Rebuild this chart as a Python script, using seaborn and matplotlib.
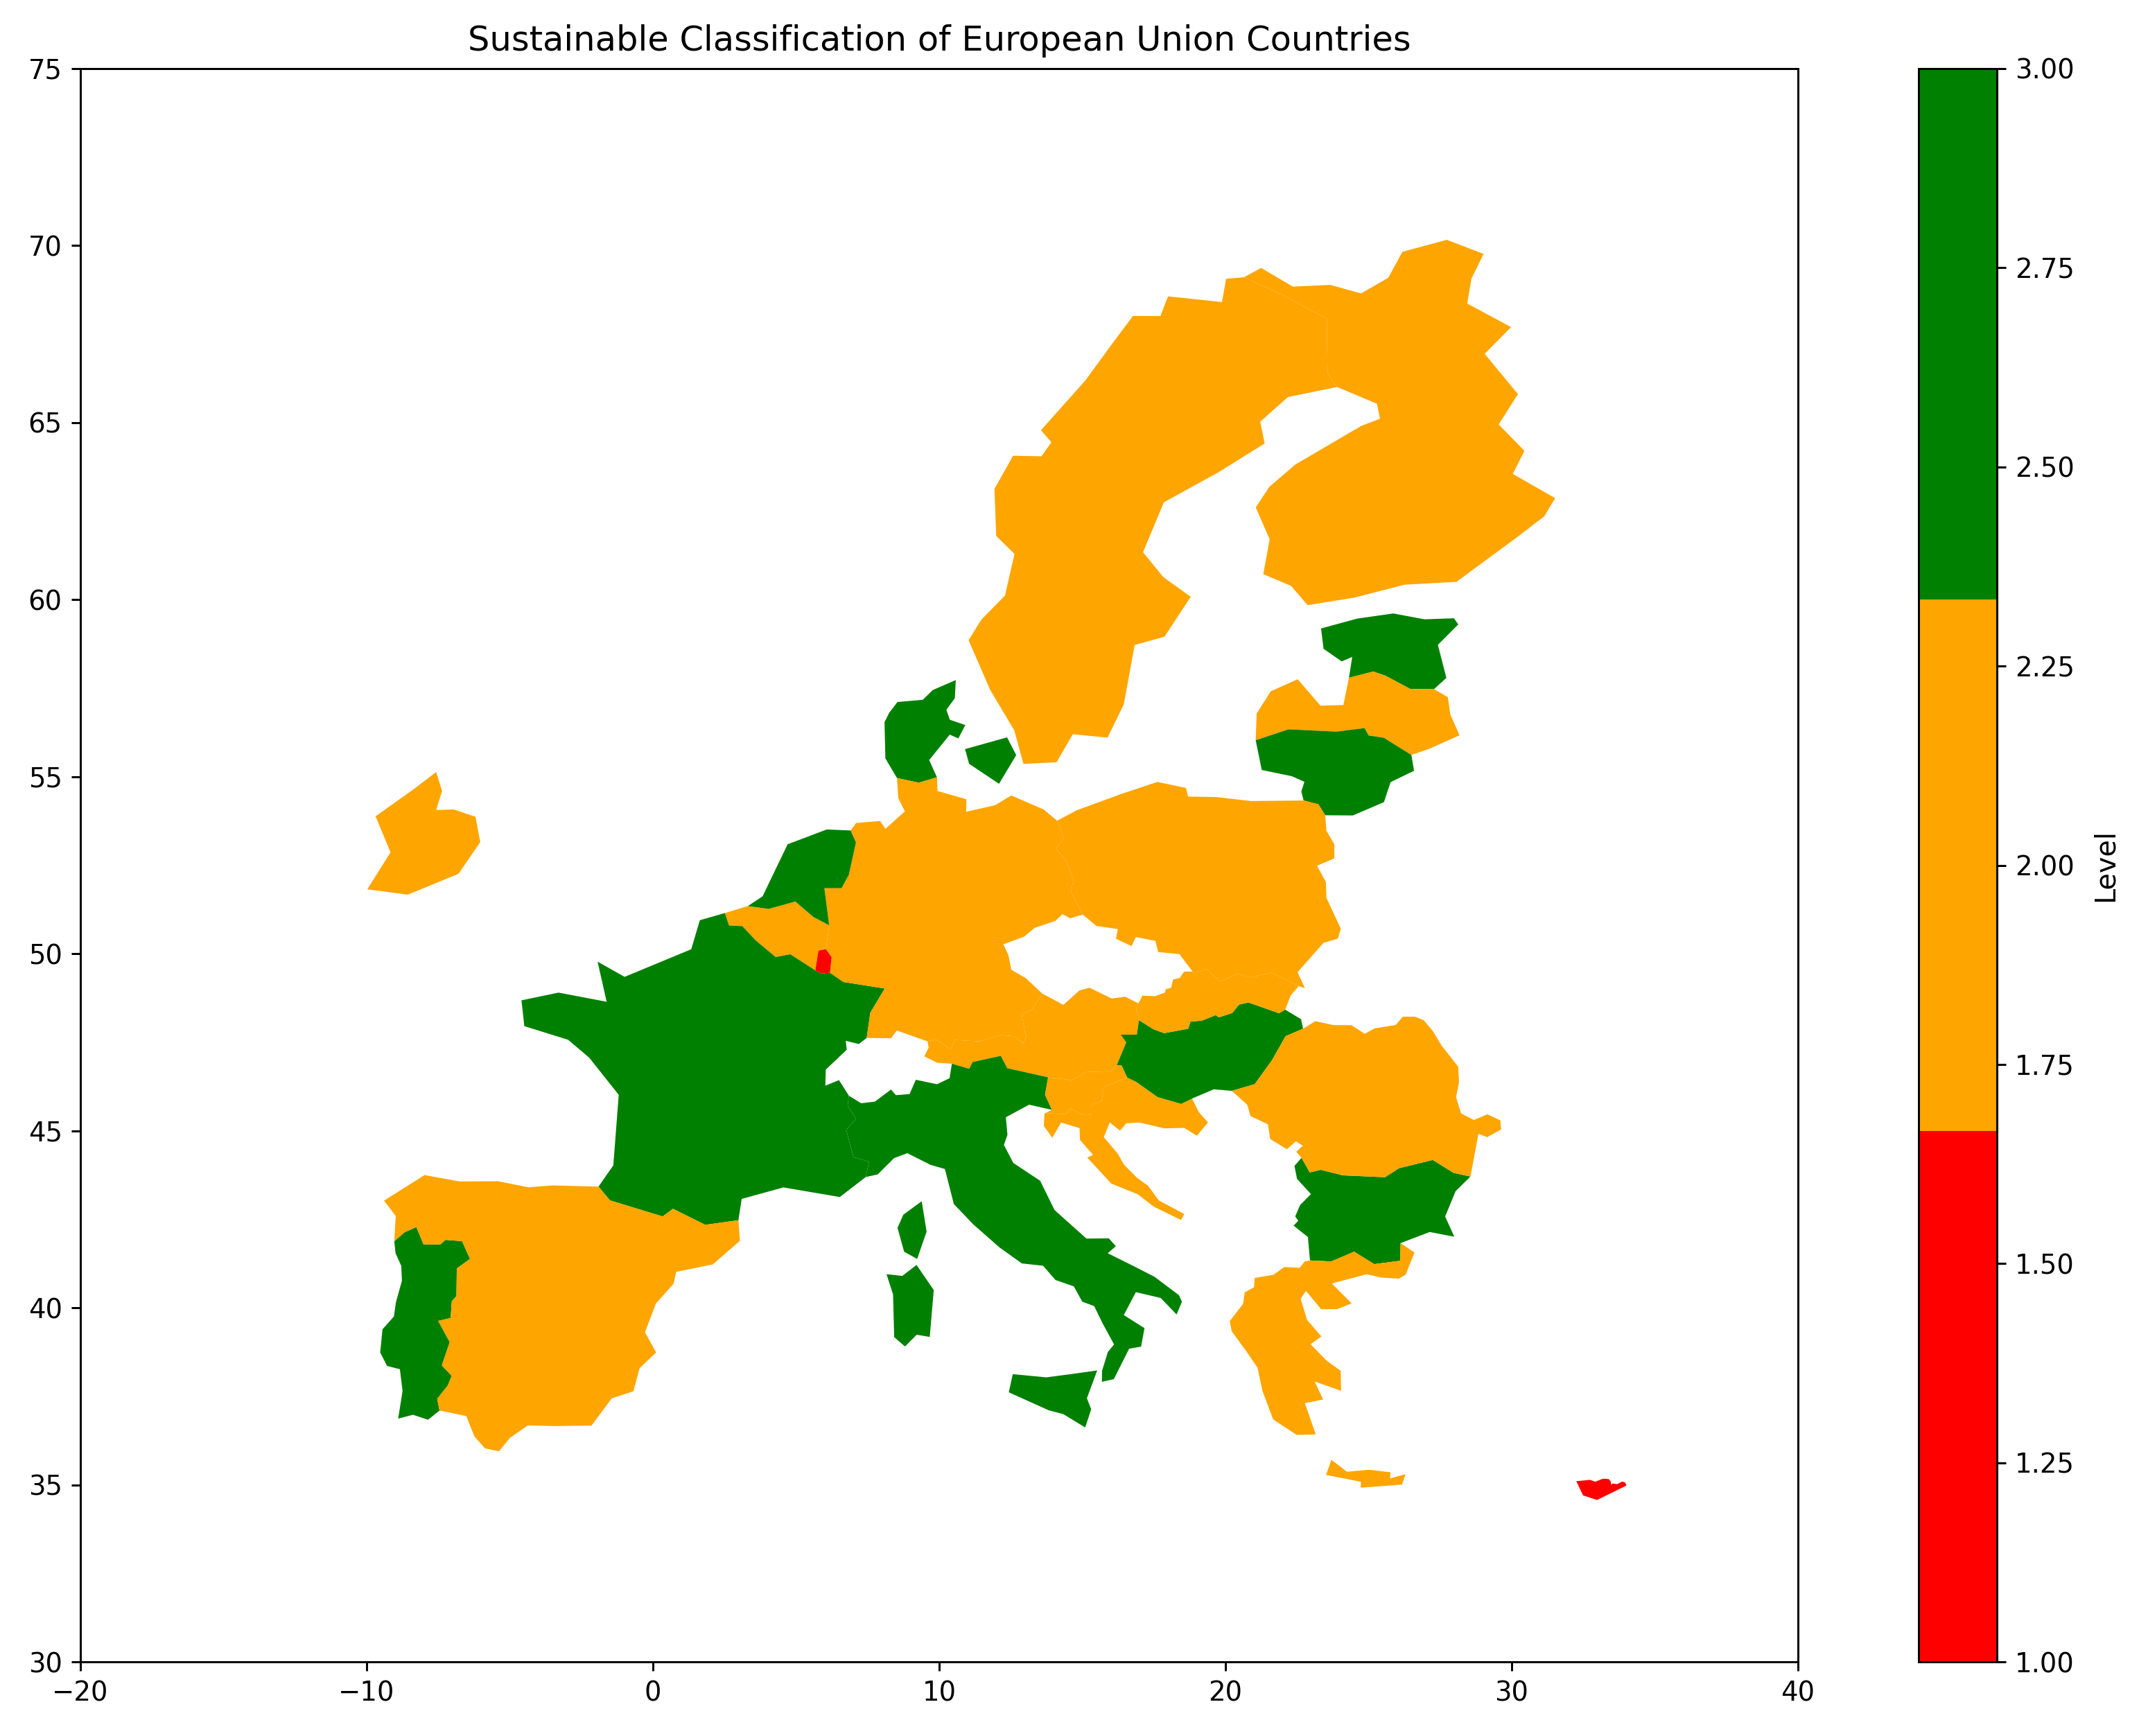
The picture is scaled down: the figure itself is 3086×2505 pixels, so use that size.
import numpy as np
import matplotlib
matplotlib.use("Agg")
import matplotlib.pyplot as plt
from matplotlib.collections import PolyCollection
from matplotlib.colors import ListedColormap, Normalize
from matplotlib.cm import ScalarMappable
import seaborn as sns

sns.set_theme(style="ticks", rc={"font.family": "DejaVu Sans"})
sns.reset_orig()

austria = [[16.980,48.123],[16.904,47.715],[16.341,47.713],[16.534,47.496],[16.202,46.852],[16.012,46.684],[15.137,46.659],[14.632,46.432],[13.806,46.509],[12.376,46.768],[12.153,47.115],[11.165,46.942],[11.049,46.751],[10.443,46.894],[9.932,46.921],[9.480,47.102],[9.632,47.348],[9.595,47.525],[9.896,47.580],[10.402,47.302],[10.544,47.566],[11.426,47.524],[12.141,47.704],[12.621,47.672],[12.933,47.467],[13.026,47.638],[12.884,48.289],[13.243,48.416],[13.596,48.877],[14.339,48.555],[14.901,48.964],[15.253,49.039],[16.030,48.734],[16.499,48.786],[16.960,48.597],[16.880,48.470]]
belgium = [[3.315,51.346],[4.047,51.267],[4.974,51.475],[5.607,51.037],[6.157,50.804],[6.043,50.128],[5.782,50.090],[5.674,49.529],[4.799,49.985],[4.286,49.907],[3.588,50.379],[3.123,50.780],[2.658,50.797],[2.514,51.149]]
bulgaria = [[22.657,44.235],[22.945,43.824],[23.332,43.897],[24.101,43.741],[25.569,43.688],[26.065,43.943],[27.242,44.176],[27.970,43.812],[28.558,43.707],[28.039,43.293],[27.674,42.578],[27.996,42.007],[27.136,42.141],[26.117,41.827],[26.106,41.329],[25.197,41.234],[24.493,41.584],[23.692,41.309],[22.952,41.338],[22.881,41.999],[22.381,42.320],[22.545,42.461],[22.437,42.580],[22.605,42.899],[22.986,43.211],[22.500,43.643],[22.410,44.008]]
croatia = [[18.830,45.909],[19.073,45.522],[19.390,45.237],[19.005,44.860],[18.553,45.082],[17.862,45.068],[17.002,45.234],[16.535,45.212],[16.318,45.004],[15.959,45.234],[15.750,44.819],[16.240,44.351],[16.456,44.041],[16.916,43.668],[17.297,43.446],[17.675,43.029],[18.560,42.650],[18.450,42.480],[17.510,42.850],[16.930,43.210],[16.015,43.507],[15.174,44.243],[15.376,44.318],[14.920,44.739],[14.902,45.076],[14.259,45.234],[13.952,44.802],[13.657,45.137],[13.679,45.484],[13.715,45.500],[14.412,45.466],[14.595,45.635],[14.935,45.472],[15.328,45.452],[15.324,45.732],[15.672,45.834],[15.769,46.238],[16.565,46.504],[16.883,46.381],[17.630,45.952],[18.456,45.759]]
cyprus = [[32.731,35.140],[32.919,35.088],[33.191,35.173],[33.384,35.163],[33.456,35.101],[33.476,35.001],[33.526,35.039],[33.676,35.018],[33.866,35.094],[33.973,35.059],[34.005,34.978],[32.980,34.572],[32.491,34.702],[32.257,35.103]]
denmark_jutland = [[9.922,54.983],[9.282,54.831],[8.526,54.963],[8.120,55.518],[8.090,56.540],[8.257,56.810],[8.543,57.110],[9.424,57.172],[9.776,57.448],[10.580,57.730],[10.546,57.216],[10.250,56.890],[10.370,56.610],[10.912,56.459],[10.668,56.081],[10.370,56.190],[9.650,55.470]]
denmark_zealand = [[12.690,55.610],[12.090,54.800],[11.044,55.365],[10.904,55.780],[12.371,56.111]]
estonia = [[24.313,57.793],[24.429,58.383],[24.061,58.257],[23.427,58.613],[23.340,59.187],[24.604,59.466],[25.864,59.611],[26.949,59.446],[27.981,59.475],[28.132,59.301],[27.420,58.725],[27.717,57.792],[27.288,57.475],[26.464,57.476],[25.603,57.848],[25.165,57.970]]
finland = [[28.592,69.065],[28.446,68.365],[29.977,67.698],[29.055,66.944],[30.218,65.806],[29.544,64.949],[30.445,64.204],[30.036,63.553],[31.516,62.868],[31.140,62.358],[30.211,61.780],[28.070,60.504],[26.255,60.424],[24.497,60.057],[22.870,59.846],[22.291,60.392],[21.322,60.720],[21.545,61.705],[21.059,62.607],[21.536,63.190],[22.443,63.818],[24.731,64.902],[25.398,65.111],[25.294,65.534],[23.903,66.007],[23.566,66.396],[23.539,67.936],[21.979,68.617],[20.646,69.106],[21.245,69.370],[22.356,68.842],[23.662,68.891],[24.736,68.650],[25.689,69.092],[26.180,69.825],[27.732,70.164],[29.016,69.766]]
france_main = [[3.588,50.379],[4.286,49.907],[4.799,49.985],[5.674,49.529],[5.898,49.443],[6.186,49.464],[6.658,49.202],[8.099,49.018],[7.594,48.333],[7.467,47.621],[7.192,47.450],[6.737,47.542],[6.769,47.288],[6.037,46.726],[6.023,46.273],[6.500,46.430],[6.844,45.991],[6.802,45.709],[7.097,45.333],[6.750,45.029],[7.008,44.255],[7.550,44.128],[7.435,43.694],[6.529,43.129],[4.557,43.400],[3.100,43.075],[2.986,42.473],[1.827,42.343],[0.702,42.796],[0.338,42.580],[-1.503,43.034],[-1.901,43.423],[-1.384,44.023],[-1.194,46.015],[-2.226,47.064],[-2.963,47.570],[-4.492,47.955],[-4.592,48.684],[-3.296,48.902],[-1.617,48.644],[-1.933,49.776],[-0.989,49.347],[1.339,50.127],[1.639,50.947],[2.514,51.149],[2.658,50.797],[3.123,50.780]]
france_corsica = [[9.560,42.152],[9.230,41.380],[8.776,41.584],[8.544,42.257],[8.746,42.628],[9.390,43.010]]
germany = [[14.120,53.757],[14.353,53.248],[14.075,52.981],[14.438,52.625],[14.685,52.090],[14.607,51.745],[15.017,51.107],[14.571,51.002],[14.307,51.117],[14.056,50.927],[13.338,50.733],[12.967,50.484],[12.240,50.266],[12.415,49.969],[12.521,49.547],[13.031,49.307],[13.596,48.877],[13.243,48.416],[12.884,48.289],[13.026,47.638],[12.933,47.468],[12.621,47.672],[12.141,47.703],[11.426,47.524],[10.545,47.566],[10.402,47.302],[9.896,47.580],[9.594,47.525],[8.523,47.831],[8.317,47.614],[7.467,47.621],[7.594,48.333],[8.099,49.018],[6.658,49.202],[6.186,49.464],[6.243,49.902],[6.043,50.128],[6.157,50.804],[5.989,51.852],[6.589,51.852],[6.843,52.228],[7.092,53.144],[6.905,53.482],[7.100,53.694],[7.936,53.748],[8.122,53.528],[8.801,54.021],[8.572,54.396],[8.526,54.963],[9.282,54.831],[9.922,54.983],[9.940,54.597],[10.950,54.364],[10.939,54.009],[11.956,54.196],[12.518,54.470],[13.646,54.076]]
greece_crete = [[26.290,35.300],[26.165,35.005],[24.725,34.920],[24.735,35.085],[23.515,35.280],[23.700,35.705],[24.247,35.368],[25.025,35.425],[25.769,35.354],[25.745,35.180]]
greece_main = [[22.952,41.338],[23.692,41.309],[24.493,41.584],[25.197,41.234],[26.106,41.329],[26.117,41.827],[26.604,41.562],[26.295,40.936],[26.057,40.824],[25.448,40.853],[24.926,40.947],[23.715,40.687],[24.408,40.125],[23.900,39.962],[23.343,39.961],[22.814,40.476],[22.626,40.257],[22.850,39.659],[23.350,39.190],[22.973,38.971],[23.530,38.510],[24.025,38.220],[24.040,37.655],[23.115,37.920],[23.410,37.410],[22.775,37.305],[23.154,36.423],[22.490,36.410],[21.670,36.845],[21.295,37.645],[21.120,38.310],[20.730,38.770],[20.218,39.340],[20.150,39.625],[20.615,40.110],[20.675,40.435],[21.000,40.580],[21.020,40.843],[21.674,40.931],[22.055,41.150],[22.597,41.130],[22.762,41.305]]
hungary = [[22.086,48.422],[22.641,48.150],[22.711,47.882],[22.100,47.672],[21.627,46.994],[21.022,46.316],[20.220,46.127],[19.596,46.172],[18.830,45.909],[18.456,45.759],[17.630,45.952],[16.883,46.381],[16.565,46.504],[16.371,46.841],[16.202,46.852],[16.534,47.496],[16.341,47.713],[16.904,47.715],[16.980,48.123],[17.488,47.867],[17.857,47.758],[18.697,47.881],[18.777,48.082],[19.174,48.111],[19.661,48.267],[19.769,48.203],[20.239,48.328],[20.474,48.563],[20.801,48.624],[21.872,48.320]]
ireland = [[-9.977,51.820],[-9.166,52.865],[-9.689,53.881],[-8.328,54.665],[-7.572,55.132],[-7.366,54.596],[-7.572,54.060],[-6.954,54.074],[-6.198,53.868],[-6.033,53.153],[-6.789,52.260],[-8.562,51.669]]
italy_sicily = [[15.520,38.231],[15.160,37.444],[15.310,37.134],[15.100,36.620],[14.335,36.997],[13.827,37.105],[12.431,37.613],[12.571,38.126],[13.741,38.035],[14.761,38.144]]
italy_sardinia = [[9.210,41.210],[9.810,40.500],[9.670,39.177],[9.215,39.240],[8.807,38.907],[8.428,39.172],[8.388,40.378],[8.160,40.950],[8.710,40.900]]
italy_main = [[12.376,46.768],[13.806,46.509],[13.698,46.017],[13.938,45.591],[13.142,45.737],[12.329,45.382],[12.384,44.885],[12.261,44.600],[12.589,44.091],[13.527,43.588],[14.030,42.761],[15.143,41.955],[15.926,41.961],[16.170,41.740],[15.889,41.541],[16.785,41.180],[17.519,40.877],[18.377,40.356],[18.480,40.169],[18.293,39.811],[17.738,40.278],[16.870,40.442],[16.449,39.795],[17.171,39.425],[17.053,38.903],[16.635,38.844],[16.101,37.986],[15.684,37.909],[15.688,38.215],[15.892,38.751],[16.109,38.965],[15.719,39.544],[15.414,40.048],[14.998,40.173],[14.703,40.605],[14.061,40.786],[13.628,41.188],[12.888,41.253],[12.107,41.705],[11.192,42.355],[10.512,42.931],[10.200,43.920],[9.702,44.036],[8.889,44.366],[8.429,44.231],[7.851,43.767],[7.435,43.694],[7.550,44.128],[7.008,44.255],[6.750,45.029],[7.097,45.333],[6.802,45.709],[6.844,45.991],[7.274,45.777],[7.756,45.824],[8.317,46.164],[8.490,46.005],[8.966,46.037],[9.183,46.440],[9.923,46.315],[10.363,46.484],[10.443,46.894],[11.049,46.751],[11.165,46.942],[12.153,47.115]]
latvia = [[21.056,56.031],[21.090,56.784],[21.582,57.412],[22.524,57.753],[23.318,57.006],[24.121,57.026],[24.313,57.793],[25.165,57.970],[25.603,57.848],[26.464,57.476],[27.288,57.475],[27.770,57.244],[27.855,56.759],[28.177,56.169],[27.102,55.783],[26.494,55.615],[25.533,56.100],[25.001,56.165],[24.861,56.373],[23.878,56.274],[22.201,56.338]]
lithuania = [[26.494,55.615],[26.588,55.167],[25.768,54.847],[25.536,54.282],[24.451,53.906],[23.484,53.912],[23.244,54.221],[22.731,54.328],[22.651,54.583],[22.758,54.857],[22.316,55.015],[21.268,55.190],[21.056,56.031],[22.201,56.338],[23.878,56.274],[24.861,56.373],[25.001,56.165],[25.533,56.100]]
luxembourg = [[6.043,50.128],[6.243,49.902],[6.186,49.464],[5.898,49.443],[5.674,49.529],[5.782,50.090]]
netherlands = [[6.905,53.482],[7.092,53.144],[6.843,52.228],[6.589,51.852],[5.989,51.852],[6.157,50.804],[5.607,51.037],[4.974,51.475],[4.047,51.267],[3.315,51.346],[3.830,51.621],[4.706,53.092],[6.074,53.510]]
poland = [[23.484,53.912],[23.528,53.470],[23.805,53.090],[23.799,52.691],[23.199,52.487],[23.508,52.024],[23.527,51.578],[24.030,50.705],[23.923,50.425],[23.427,50.309],[22.518,49.477],[22.776,49.027],[22.558,49.086],[21.608,49.470],[20.888,49.329],[20.416,49.431],[19.825,49.217],[19.321,49.572],[18.910,49.436],[18.853,49.496],[18.393,49.989],[17.649,50.049],[17.555,50.362],[16.869,50.474],[16.719,50.216],[16.176,50.423],[16.239,50.698],[15.491,50.785],[15.017,51.107],[14.607,51.745],[14.685,52.090],[14.438,52.625],[14.075,52.981],[14.353,53.248],[14.120,53.757],[14.803,54.051],[16.363,54.513],[17.623,54.852],[18.621,54.683],[18.696,54.439],[19.661,54.426],[20.892,54.313],[22.731,54.328],[23.244,54.221]]
portugal = [[-9.035,41.881],[-8.672,42.135],[-8.264,42.280],[-8.013,41.791],[-7.423,41.792],[-7.251,41.918],[-6.669,41.883],[-6.389,41.382],[-6.851,41.111],[-6.864,40.331],[-7.026,40.185],[-7.067,39.712],[-7.499,39.630],[-7.098,39.030],[-7.374,38.373],[-7.029,38.076],[-7.167,37.804],[-7.537,37.429],[-7.454,37.098],[-7.856,36.838],[-8.383,36.979],[-8.899,36.869],[-8.746,37.651],[-8.840,38.266],[-9.287,38.358],[-9.527,38.737],[-9.447,39.392],[-9.048,39.755],[-8.977,40.159],[-8.769,40.761],[-8.791,41.184],[-8.991,41.543]]
romania = [[22.711,47.882],[23.142,48.096],[23.761,47.986],[24.402,47.982],[24.866,47.738],[25.208,47.891],[25.946,47.987],[26.197,48.221],[26.619,48.221],[26.924,48.123],[27.234,47.827],[27.551,47.405],[28.128,46.810],[28.160,46.372],[28.054,45.945],[28.234,45.488],[28.680,45.304],[29.150,45.465],[29.603,45.293],[29.627,45.035],[29.142,44.820],[28.838,44.914],[28.558,43.707],[27.970,43.812],[27.242,44.176],[26.065,43.943],[25.569,43.688],[24.101,43.741],[23.332,43.897],[22.945,43.824],[22.657,44.235],[22.474,44.409],[22.706,44.578],[22.459,44.703],[22.145,44.478],[21.562,44.769],[21.484,45.181],[20.874,45.416],[20.762,45.735],[20.220,46.127],[21.022,46.316],[21.627,46.994],[22.100,47.672]]
slovakia = [[22.558,49.086],[22.281,48.825],[22.086,48.422],[21.872,48.320],[20.801,48.624],[20.474,48.563],[20.239,48.328],[19.769,48.203],[19.661,48.267],[19.174,48.111],[18.777,48.082],[18.697,47.881],[17.857,47.758],[17.488,47.867],[16.980,48.123],[16.880,48.470],[16.960,48.597],[17.102,48.817],[17.545,48.800],[17.886,48.903],[17.914,48.996],[18.105,49.044],[18.170,49.272],[18.400,49.315],[18.555,49.495],[18.853,49.496],[18.910,49.436],[19.321,49.572],[19.825,49.217],[20.416,49.431],[20.888,49.329],[21.608,49.470]]
slovenia = [[13.806,46.509],[14.632,46.432],[15.137,46.659],[16.012,46.684],[16.202,46.852],[16.371,46.841],[16.565,46.504],[15.769,46.238],[15.672,45.834],[15.324,45.732],[15.328,45.452],[14.935,45.472],[14.595,45.635],[14.412,45.466],[13.715,45.500],[13.938,45.591],[13.698,46.017]]
spain = [[-7.454,37.098],[-7.537,37.429],[-7.167,37.804],[-7.029,38.076],[-7.374,38.373],[-7.098,39.030],[-7.499,39.630],[-7.067,39.712],[-7.026,40.185],[-6.864,40.331],[-6.851,41.111],[-6.389,41.382],[-6.669,41.883],[-7.251,41.918],[-7.423,41.792],[-8.013,41.791],[-8.264,42.280],[-8.672,42.135],[-9.035,41.881],[-8.984,42.593],[-9.393,43.027],[-7.978,43.748],[-6.754,43.568],[-5.412,43.574],[-4.348,43.403],[-3.518,43.456],[-1.901,43.423],[-1.503,43.034],[0.338,42.580],[0.702,42.796],[1.827,42.343],[2.986,42.473],[3.039,41.892],[2.092,41.226],[0.811,41.015],[0.721,40.678],[0.107,40.124],[-0.279,39.310],[0.111,38.739],[-0.467,38.292],[-0.683,37.642],[-1.438,37.443],[-2.146,36.674],[-3.416,36.659],[-4.369,36.678],[-4.995,36.325],[-5.377,35.947],[-5.866,36.030],[-6.237,36.368],[-6.520,36.943]]
sweden = [[11.027,58.856],[11.468,59.432],[12.300,60.118],[12.631,61.294],[11.992,61.800],[11.931,63.128],[12.580,64.066],[13.572,64.049],[13.920,64.445],[13.556,64.787],[15.108,66.194],[16.109,67.302],[16.769,68.014],[17.729,68.011],[17.994,68.567],[19.878,68.407],[20.025,69.065],[20.646,69.106],[21.979,68.617],[23.539,67.936],[23.566,66.396],[23.903,66.007],[22.183,65.724],[21.214,65.026],[21.370,64.414],[19.779,63.610],[17.848,62.750],[17.120,61.341],[17.831,60.637],[18.788,60.082],[17.869,58.954],[16.829,58.720],[16.448,57.041],[15.880,56.104],[14.667,56.201],[14.101,55.408],[12.943,55.362],[12.625,56.307],[11.788,57.442]]

regions = [austria, belgium, bulgaria, croatia, cyprus, denmark_jutland, denmark_zealand,
           estonia, finland, france_main, france_corsica, germany, greece_crete, greece_main,
           hungary, ireland, italy_sicily, italy_sardinia, italy_main, latvia, lithuania,
           luxembourg, netherlands, poland, portugal, romania, slovakia, slovenia, spain, sweden]
levels = [2, 2, 3, 2, 1, 3, 3,
          3, 2, 3, 3, 2, 2, 2,
          3, 2, 3, 3, 3, 2, 3,
          1, 3, 2, 3, 2, 2, 2, 2, 2]
level_colors = ["red", "orange", "green"]
x_ticks = [-20, -10, 0, 10, 20, 30, 40]
y_ticks = [30, 35, 40, 45, 50, 55, 60, 65, 70, 75]
cbar_ticks = [1.00, 1.25, 1.50, 1.75, 2.00, 2.25, 2.50, 2.75, 3.00]

W, H = 3086, 2505
DPI = 270
plt.rcParams.update({"xtick.labelsize": 10.3, "ytick.labelsize": 10.3})
fig = plt.figure(figsize=(W / DPI, H / DPI), dpi=DPI)
ax = fig.add_axes([116 / W, 1 - 2398 / H, (2594 - 116) / W, (2398 - 99) / H])
cax = fig.add_axes([2768 / W, 1 - 2398 / H, (2881 - 2768) / W, (2398 - 99) / H])

cmap = ListedColormap(sns.color_palette(level_colors))
norm = Normalize(vmin=1, vmax=3)
coll = PolyCollection([np.array(r) for r in regions], array=np.array(levels, dtype=float),
                      cmap=cmap, norm=norm, linewidths=0, edgecolors="none")
ax.add_collection(coll)
ax.set_xlim(-20, 40)
ax.set_ylim(30, 75)
ax.set_xticks(x_ticks)
ax.set_yticks(y_ticks)
ax.set_title("Sustainable Classification of European Union Countries", fontsize=13.2, pad=7)

cb = fig.colorbar(ScalarMappable(norm=norm, cmap=cmap), cax=cax)
cb.set_ticks(cbar_ticks)
cb.set_label("Level", fontsize=10.6, labelpad=6.5)

fig.savefig("out.png", dpi=DPI)
